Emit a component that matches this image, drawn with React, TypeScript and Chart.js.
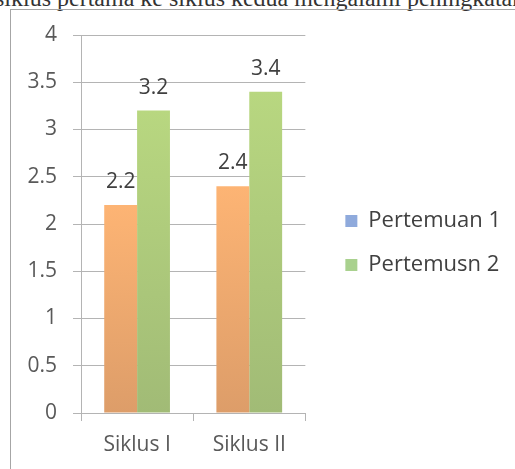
import { useEffect, useRef } from "react";
import { Chart, registerables } from "chart.js";

Chart.register(...registerables);

const categories = ["Siklus I", "Siklus II"];
const pertemuan1 = [2.2, 2.4];
const pertemuan2 = [3.2, 3.4];
const seriesNames = ["Pertemuan 1", "Pertemusn 2"];
const legendSwatches = ["#8FAADC", "#A9D18E"];
const yMin = 0;
const yMax = 4;
const yStep = 0.5;
const headingText = "siklus pertama ke siklus kedua mengalami peningkatan";

const FONT = "'Open Sans', sans-serif";
const GRID = "#b4b4b4";
const LEGEND_FONT_SIZE = 22;

function barGradient(top: string, bottom: string) {
  return (c: any) => {
    const chart = c.chart;
    const area = chart.chartArea;
    const y = chart.scales?.y;
    if (!area || !y || c.raw == null) return top;
    const yTop = y.getPixelForValue(c.raw);
    const g = chart.ctx.createLinearGradient(0, yTop, 0, area.bottom);
    g.addColorStop(0, top);
    g.addColorStop(1, bottom);
    return g;
  };
}

const valueLabels = {
  id: "valueLabels",
  afterDatasetsDraw(chart: any) {
    const ctx = chart.ctx;
    ctx.save();
    ctx.font = `21px ${FONT}`;
    ctx.fillStyle = "#404040";
    ctx.textAlign = "center";
    ctx.textBaseline = "middle";
    chart.data.datasets.forEach((ds: any, i: number) => {
      const meta = chart.getDatasetMeta(i);
      meta.data.forEach((bar: any, j: number) => {
        ctx.fillText(String(ds.data[j]), bar.x, bar.y - 23);
      });
    });
    ctx.restore();
  },
};

export default function App() {
  const ref = useRef<HTMLCanvasElement | null>(null);

  useEffect(() => {
    const canvas = ref.current;
    if (!canvas) return;
    // measure legend text so the legend box starts where the reference has it
    const mctx = canvas.getContext("2d")!;
    mctx.font = `${LEGEND_FONT_SIZE}px ${FONT}`;
    const textW = Math.max(...seriesNames.map((n) => mctx.measureText(n).width));
    const legendW = Math.ceil(22 + 12 + LEGEND_FONT_SIZE / 2 + textW + 10) + 2;
    const padRight = 6;
    const legendLeft = 321;
    const canvasW = legendLeft + legendW + padRight;
    canvas.width = canvasW;
    canvas.height = 469;
    canvas.style.width = canvasW + "px";
    canvas.style.height = "469px";

    const chart = new Chart(canvas, {
      type: "bar",
      data: {
        labels: categories,
        datasets: [
          {
            label: seriesNames[0],
            data: pertemuan1,
            backgroundColor: barGradient("#FDB474", "#DD9D69"),
            borderWidth: 0,
            categoryPercentage: 0.586,
            barPercentage: 1,
          },
          {
            label: seriesNames[1],
            data: pertemuan2,
            backgroundColor: barGradient("#B8D780", "#A1BB76"),
            borderWidth: 0,
            categoryPercentage: 0.586,
            barPercentage: 1,
          },
        ],
      },
      options: {
        responsive: false,
        animation: false,
        layout: { padding: { left: 26, top: 35, right: padRight, bottom: 18 } },
        plugins: {
          tooltip: { enabled: false },
          legend: {
            position: "right",
            align: "center",
            maxWidth: legendW,
            labels: {
              boxWidth: 12,
              boxHeight: 12,
              padding: 22,
              color: "#404040",
              font: { family: FONT, size: LEGEND_FONT_SIZE },
              generateLabels: () =>
                seriesNames.map((name, i) => ({
                  text: name,
                  fillStyle: legendSwatches[i],
                  strokeStyle: legendSwatches[i],
                  lineWidth: 0,
                  hidden: false,
                  datasetIndex: i,
                  fontColor: "#404040",
                })),
            },
          },
        },
        scales: {
          x: {
            grid: {
              drawOnChartArea: false,
              drawTicks: true,
              tickLength: 8,
              color: GRID,
              offset: true,
            },
            border: { display: true, color: GRID },
            ticks: {
              color: "#595959",
              font: { family: FONT, size: 21 },
              padding: 11,
            },
            afterFit: (s: any) => {
              s.height = 38;
            },
          },
          y: {
            min: yMin,
            max: yMax,
            grid: { color: GRID, tickLength: 8, drawTicks: true },
            border: { display: true, color: GRID },
            ticks: {
              stepSize: yStep,
              color: "#595959",
              font: { family: FONT, size: 21 },
              padding: 16,
              callback: (v: any) => String(v),
            },
            afterFit: (s: any) => {
              s.width = 55;
            },
          },
          spacer: {
            type: "linear",
            position: "right",
            display: true,
            grid: { display: false },
            border: { display: false },
            ticks: { display: false },
            afterFit: (s: any) => {
              s.width = 18;
            },
          },
        },
      },
      plugins: [valueLabels],
    } as any);
    return () => chart.destroy();
  }, []);

  return (
    <div
      style={{
        position: "fixed",
        left: 0,
        top: 0,
        width: 515,
        height: 469,
        overflow: "hidden",
        background: "#ffffff",
      }}
    >
      <div
        style={{
          position: "absolute",
          left: -5,
          top: -14,
          fontFamily: "'Liberation Serif', serif",
          fontSize: 24,
          lineHeight: "24px",
          color: "#333333",
          whiteSpace: "nowrap",
        }}
      >
        {headingText}
      </div>
      <div
        style={{
          position: "absolute",
          left: 10,
          top: 9,
          width: 700,
          height: 700,
          border: "1px solid #a6a6a6",
        }}
      />
      <canvas
        ref={ref}
        width={515}
        height={469}
        style={{ position: "absolute", left: 0, top: 0 }}
      />
    </div>
  );
}
